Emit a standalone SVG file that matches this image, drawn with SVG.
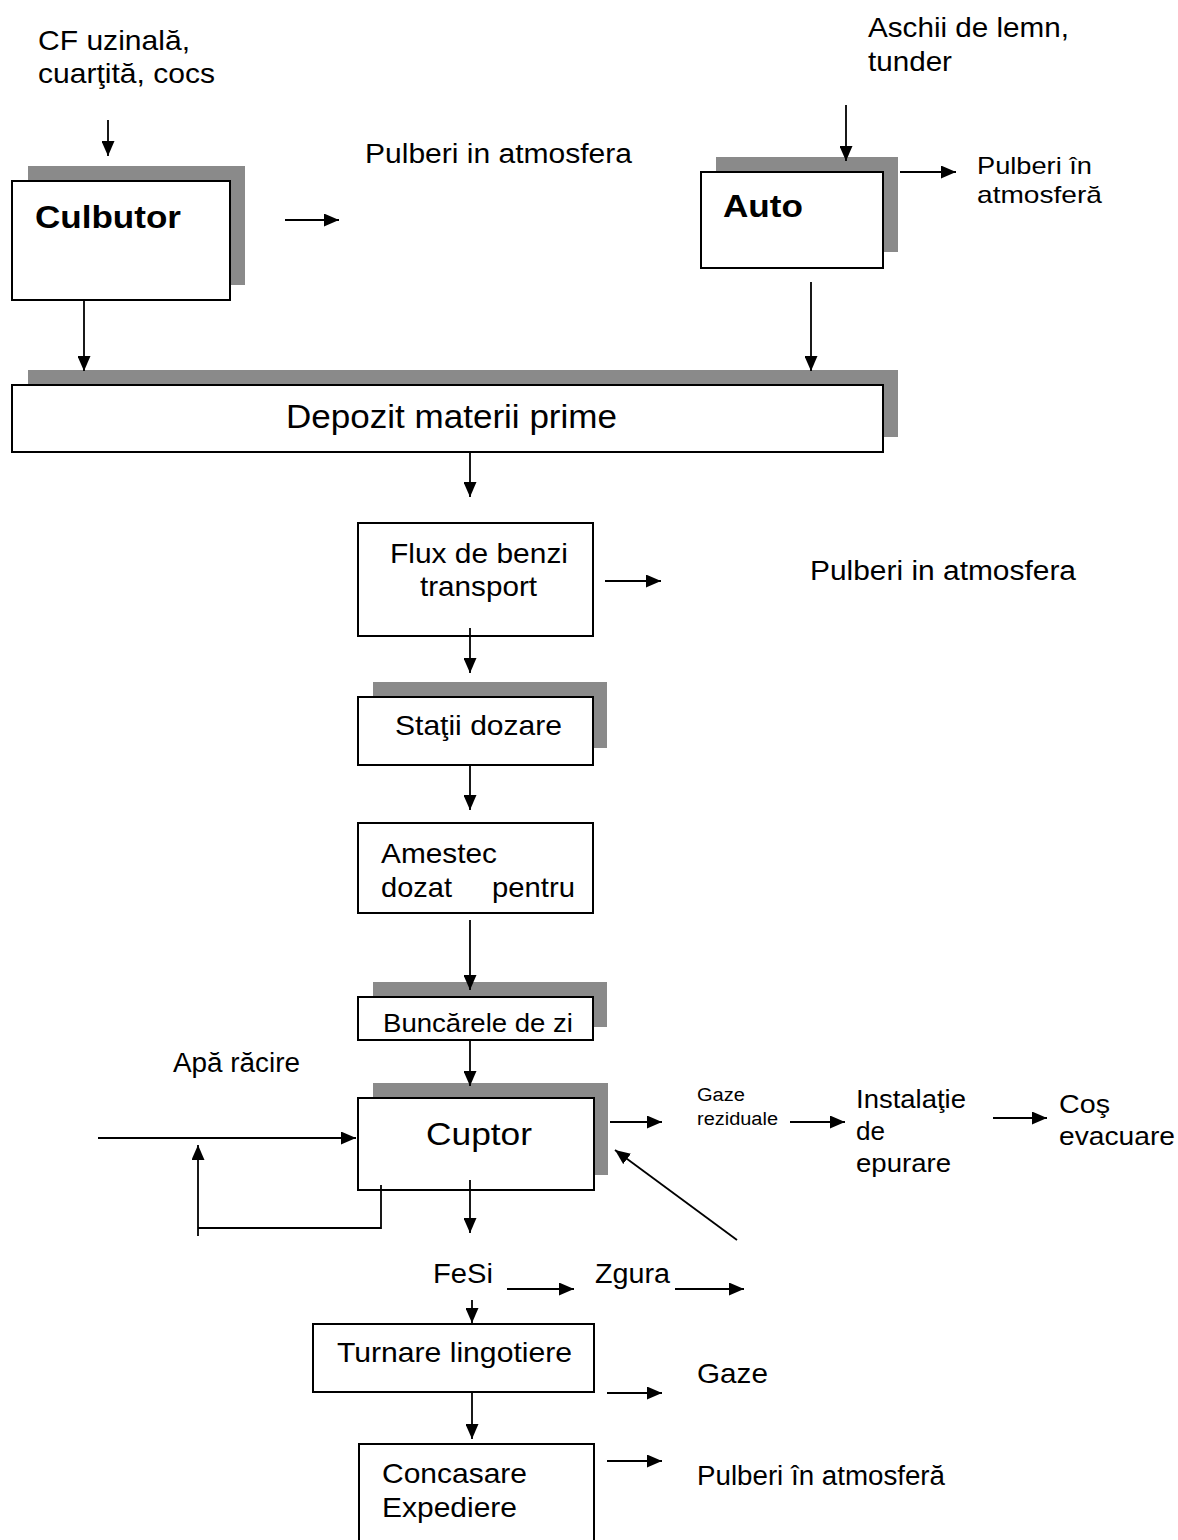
<svg xmlns="http://www.w3.org/2000/svg" width="1178" height="1540" viewBox="0 0 1178 1540">
<style>
.bg{fill:#ffffff}
.box{fill:#ffffff;stroke:#000;stroke-width:2}
.sh{fill:#8a8a8a}
.t{font-family:"Liberation Sans",Arial,sans-serif;fill:#000}
.b{font-weight:bold}
.ln{stroke:#000;stroke-width:1.8;fill:none}
</style>
<defs>
<marker id="ah" markerUnits="userSpaceOnUse" markerWidth="15" markerHeight="13" refX="15" refY="6.5" orient="auto">
<path d="M0,0 L15,6.5 L0,13 z" fill="#000"/>
</marker>
</defs>
<rect class="bg" x="0" y="0" width="1178" height="1540"/>

<g id="input-cf">
<text class="t" x="38" y="50" font-size="28" textLength="152" lengthAdjust="spacingAndGlyphs">CF uzinală,</text>
<text class="t" x="38" y="83" font-size="28" textLength="177" lengthAdjust="spacingAndGlyphs">cuarţită, cocs</text>
</g>
<g id="culbutor">
<rect class="sh" x="28" y="166" width="217" height="119"/>
<rect class="box" x="12" y="181" width="218" height="119"/>
<text class="t b" x="35" y="228" font-size="31" textLength="146" lengthAdjust="spacingAndGlyphs">Culbutor</text>
</g>
<g id="pulberi-1">
<text class="t" x="365" y="163" font-size="27" textLength="267" lengthAdjust="spacingAndGlyphs">Pulberi in atmosfera</text>
</g>
<g id="input-aschii">
<text class="t" x="868" y="37" font-size="28" textLength="201" lengthAdjust="spacingAndGlyphs">Aschii de lemn,</text>
<text class="t" x="868" y="71" font-size="28" textLength="84" lengthAdjust="spacingAndGlyphs">tunder</text>
</g>
<g id="auto">
<rect class="sh" x="716" y="157" width="182" height="95"/>
<rect class="box" x="701" y="172" width="182" height="96"/>
<text class="t b" x="723" y="217" font-size="31" textLength="80" lengthAdjust="spacingAndGlyphs">Auto</text>
</g>
<g id="pulberi-2">
<text class="t" x="977" y="174" font-size="24" textLength="115" lengthAdjust="spacingAndGlyphs">Pulberi în</text>
<text class="t" x="977" y="203" font-size="24" textLength="125" lengthAdjust="spacingAndGlyphs">atmosferă</text>
</g>
<g id="depozit">
<rect class="sh" x="28" y="370" width="870" height="67"/>
<rect class="box" x="12" y="385" width="871" height="67"/>
<text class="t" x="286" y="428" font-size="33" textLength="331" lengthAdjust="spacingAndGlyphs">Depozit materii prime</text>
</g>
<g id="flux">
<rect class="box" x="358" y="523" width="235" height="113"/>
<text class="t" x="390" y="563" font-size="28" textLength="178" lengthAdjust="spacingAndGlyphs">Flux de benzi</text>
<text class="t" x="420" y="596" font-size="28" textLength="117" lengthAdjust="spacingAndGlyphs">transport</text>
</g>
<g id="pulberi-3">
<text class="t" x="810" y="580" font-size="27" textLength="266" lengthAdjust="spacingAndGlyphs">Pulberi in atmosfera</text>
</g>
<g id="statii">
<rect class="sh" x="373" y="682" width="234" height="66"/>
<rect class="box" x="358" y="697" width="235" height="68"/>
<text class="t" x="395" y="735" font-size="28" textLength="167" lengthAdjust="spacingAndGlyphs">Staţii dozare</text>
</g>
<g id="amestec">
<rect class="box" x="358" y="823" width="235" height="90"/>
<text class="t" x="381" y="863" font-size="28" textLength="116" lengthAdjust="spacingAndGlyphs">Amestec</text>
<text class="t" y="897" font-size="28"><tspan x="381" textLength="71" lengthAdjust="spacingAndGlyphs">dozat</tspan><tspan x="492" textLength="83" lengthAdjust="spacingAndGlyphs">pentru</tspan></text>
</g>
<g id="buncarele">
<rect class="sh" x="373" y="982" width="234" height="45"/>
<rect class="box" x="358" y="997" width="235" height="43"/>
<text class="t" x="383" y="1032" font-size="26" textLength="190" lengthAdjust="spacingAndGlyphs">Buncărele de zi</text>
</g>
<g id="apa">
<text class="t" x="173" y="1072" font-size="27" textLength="127" lengthAdjust="spacingAndGlyphs">Apă răcire</text>
</g>
<g id="cuptor">
<rect class="sh" x="373" y="1083" width="235" height="92"/>
<rect class="box" x="358" y="1098" width="236" height="92"/>
<text class="t" x="426" y="1145" font-size="32" textLength="106" lengthAdjust="spacingAndGlyphs">Cuptor</text>
</g>
<g id="gaze-reziduale">
<text class="t" x="697" y="1101" font-size="18" textLength="48" lengthAdjust="spacingAndGlyphs">Gaze</text>
<text class="t" x="697" y="1125" font-size="18" textLength="81" lengthAdjust="spacingAndGlyphs">reziduale</text>
</g>
<g id="instalatie">
<text class="t" x="856" y="1108" font-size="26" textLength="110" lengthAdjust="spacingAndGlyphs">Instalaţie</text>
<text class="t" x="856" y="1140" font-size="26" textLength="29" lengthAdjust="spacingAndGlyphs">de</text>
<text class="t" x="856" y="1172" font-size="26" textLength="95" lengthAdjust="spacingAndGlyphs">epurare</text>
</g>
<g id="cos">
<text class="t" x="1059" y="1113" font-size="26" textLength="51" lengthAdjust="spacingAndGlyphs">Coş</text>
<text class="t" x="1059" y="1145" font-size="26" textLength="116" lengthAdjust="spacingAndGlyphs">evacuare</text>
</g>
<g id="fesi">
<text class="t" x="433" y="1283" font-size="27" textLength="60" lengthAdjust="spacingAndGlyphs">FeSi</text>
</g>
<g id="zgura">
<text class="t" x="595" y="1283" font-size="27" textLength="75" lengthAdjust="spacingAndGlyphs">Zgura</text>
</g>
<g id="turnare">
<rect class="box" x="313" y="1324" width="281" height="68"/>
<text class="t" x="337" y="1362" font-size="28" textLength="235" lengthAdjust="spacingAndGlyphs">Turnare lingotiere</text>
</g>
<g id="gaze">
<text class="t" x="697" y="1383" font-size="28" textLength="71" lengthAdjust="spacingAndGlyphs">Gaze</text>
</g>
<g id="concasare">
<rect class="box" x="359" y="1444" width="235" height="110"/>
<text class="t" x="382" y="1483" font-size="28" textLength="145" lengthAdjust="spacingAndGlyphs">Concasare</text>
<text class="t" x="382" y="1517" font-size="28" textLength="135" lengthAdjust="spacingAndGlyphs">Expediere</text>
</g>
<g id="pulberi-4">
<text class="t" x="697" y="1485" font-size="27" textLength="248" lengthAdjust="spacingAndGlyphs">Pulberi în atmosferă</text>
</g>

<g id="connectors">
<line class="ln" x1="108" y1="120" x2="108" y2="156" marker-end="url(#ah)"/>
<line class="ln" x1="285" y1="220" x2="339" y2="220" marker-end="url(#ah)"/>
<line class="ln" x1="846" y1="105" x2="846" y2="161" marker-end="url(#ah)"/>
<line class="ln" x1="900" y1="172" x2="956" y2="172" marker-end="url(#ah)"/>
<line class="ln" x1="84" y1="300" x2="84" y2="371" marker-end="url(#ah)"/>
<line class="ln" x1="811" y1="282" x2="811" y2="371" marker-end="url(#ah)"/>
<line class="ln" x1="470" y1="452" x2="470" y2="497" marker-end="url(#ah)"/>
<line class="ln" x1="605" y1="581" x2="661" y2="581" marker-end="url(#ah)"/>
<line class="ln" x1="470" y1="628" x2="470" y2="673" marker-end="url(#ah)"/>
<line class="ln" x1="470" y1="765" x2="470" y2="810" marker-end="url(#ah)"/>
<line class="ln" x1="470" y1="920" x2="470" y2="990" marker-end="url(#ah)"/>
<line class="ln" x1="470" y1="1040" x2="470" y2="1086" marker-end="url(#ah)"/>
<line class="ln" x1="98" y1="1138" x2="356" y2="1138" marker-end="url(#ah)"/>
<polyline class="ln" points="381,1185 381,1228 198,1228"/>
<line class="ln" x1="198" y1="1236" x2="198" y2="1145" marker-end="url(#ah)"/>
<line class="ln" x1="470" y1="1180" x2="470" y2="1233" marker-end="url(#ah)"/>
<line class="ln" x1="610" y1="1122" x2="662" y2="1122" marker-end="url(#ah)"/>
<line class="ln" x1="790" y1="1122" x2="845" y2="1122" marker-end="url(#ah)"/>
<line class="ln" x1="993" y1="1118" x2="1047" y2="1118" marker-end="url(#ah)"/>
<line class="ln" x1="737" y1="1240" x2="615" y2="1150" marker-end="url(#ah)"/>
<line class="ln" x1="507" y1="1289" x2="574" y2="1289" marker-end="url(#ah)"/>
<line class="ln" x1="675" y1="1289" x2="744" y2="1289" marker-end="url(#ah)"/>
<line class="ln" x1="472" y1="1300" x2="472" y2="1323" marker-end="url(#ah)"/>
<line class="ln" x1="607" y1="1393" x2="662" y2="1393" marker-end="url(#ah)"/>
<line class="ln" x1="472" y1="1392" x2="472" y2="1439" marker-end="url(#ah)"/>
<line class="ln" x1="607" y1="1461" x2="662" y2="1461" marker-end="url(#ah)"/>
</g>
</svg>
